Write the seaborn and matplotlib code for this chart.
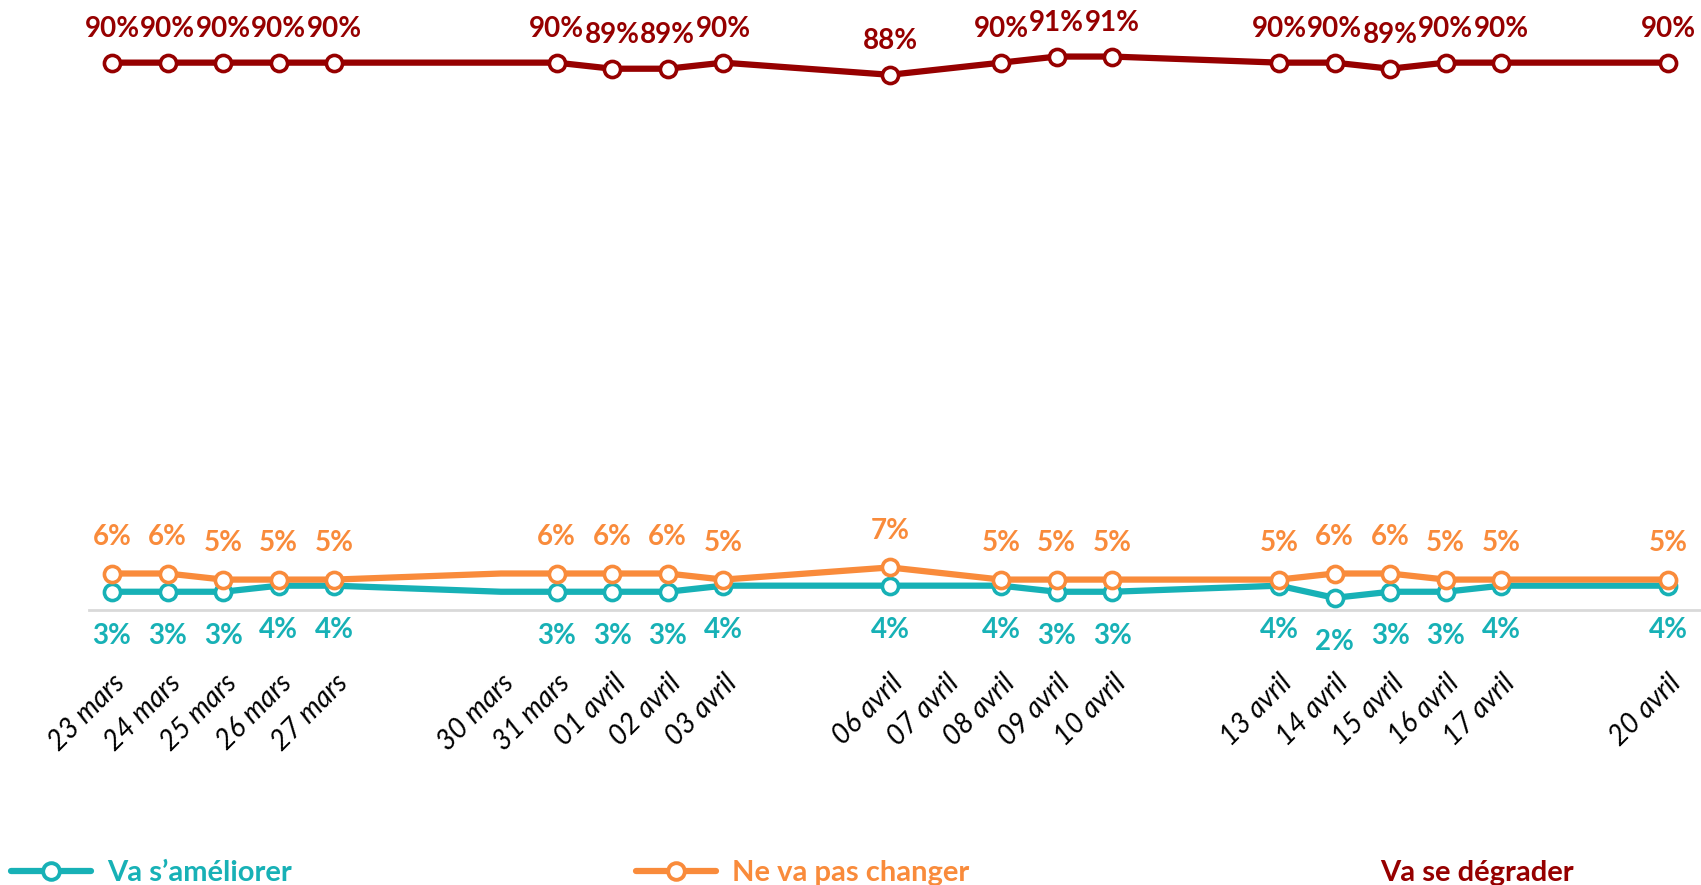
import matplotlib
matplotlib.use("Agg")
import matplotlib.pyplot as plt
import seaborn as sns
import pandas as pd
from matplotlib.lines import Line2D

sns.set_theme(style="white")
plt.rcParams['font.family'] = ['Lato', 'DejaVu Sans']

dates = ["2020-03-23", "2020-03-24", "2020-03-25", "2020-03-26", "2020-03-27",
         "2020-03-30", "2020-03-31", "2020-04-01", "2020-04-02", "2020-04-03",
         "2020-04-06", "2020-04-07", "2020-04-08", "2020-04-09", "2020-04-10",
         "2020-04-13", "2020-04-14", "2020-04-15", "2020-04-16", "2020-04-17",
         "2020-04-20"]
tick_labels = ["23 mars", "24 mars", "25 mars", "26 mars", "27 mars",
               "30 mars", "31 mars", "01 avril", "02 avril", "03 avril",
               "06 avril", "07 avril", "08 avril", "09 avril", "10 avril",
               "13 avril", "14 avril", "15 avril", "16 avril", "17 avril",
               "20 avril"]
# points shown with a marker and label
shown = [1, 1, 1, 1, 1, 0, 1, 1, 1, 1, 1, 0, 1, 1, 1, 1, 1, 1, 1, 1, 1]

ameliorer = [3, 3, 3, 4, 4, 3, 3, 3, 3, 4, 4, 4, 4, 3, 3, 4, 2, 3, 3, 4, 4]
pas_changer = [6, 6, 5, 5, 5, 6, 6, 6, 6, 5, 7, 6, 5, 5, 5, 5, 6, 6, 5, 5, 5]
degrader = [90, 90, 90, 90, 90, 90, 90, 89, 89, 90, 88, 89, 90, 91, 91, 90, 90, 89, 90, 90, 90]

series_names = ["Va s\u2019améliorer", "Ne va pas changer", "Va se dégrader"]
colors = ["#17B1B6", "#F98B3B", "#960000"]

d = pd.to_datetime(pd.Series(dates))
days = (d - d.iloc[0]).dt.days.tolist()

df = pd.DataFrame({"day": days, "shown": shown,
                   series_names[0]: ameliorer,
                   series_names[1]: pas_changer,
                   series_names[2]: degrader})

W, H = 1701, 885
fig = plt.figure(figsize=(W / 100, H / 100), dpi=100)
ax = fig.add_axes([89 / W, 275 / H, (W - 89) / W, 610 / H])

label_offsets = [-32, 26.5, 24]  # points: teal below, others above
for i, name in enumerate(series_names):
    c = colors[i]
    sns.lineplot(data=df, x="day", y=name, ax=ax, color=c, linewidth=4.5,
                 zorder=2 + i * 2, legend=False)
    sub = df[df["shown"] == 1]
    ax.scatter(sub["day"], sub[name], s=135, facecolor="white", edgecolor=c,
               linewidth=2.6, zorder=3 + i * 2)
    for x, y in zip(sub["day"], sub[name]):
        ax.annotate(f"{y}%", (x, y), xytext=(0, label_offsets[i]),
                    textcoords="offset points", ha="center", va="center",
                    fontsize=20, fontweight="bold", color=c, zorder=10)

ax.set_xlim(-0.414, 28.594)
ax.set_ylim(0, 100.3)
ax.set_xticks(days)
ax.set_xticklabels(tick_labels, rotation=45, ha="right", rotation_mode="anchor",
                   fontsize=20, fontstyle="italic", color="black")
ax.tick_params(axis="x", length=0, pad=43)
ax.set_yticks([])
ax.set_xlabel("")
ax.set_ylabel("")
for s in ["top", "left", "right"]:
    ax.spines[s].set_visible(False)
ax.spines["bottom"].set_color("#D9D9D9")
ax.spines["bottom"].set_linewidth(2)

# Legend (bottom, partially cut off as in reference)
leg_x = [11 / W, 636 / W, 1380 / W]
for i, name in enumerate(series_names):
    if i < 2:
        h = Line2D([0], [0], color=colors[i], linewidth=4.5, marker="o",
                   markersize=12, markerfacecolor="white",
                   markeredgecolor=colors[i], markeredgewidth=2.8)
        lg = fig.legend([h], [name], loc="center left",
                        bbox_to_anchor=(leg_x[i], 1 - 873 / H), frameon=False,
                        handlelength=2.75, handletextpad=0.55, borderpad=0,
                        borderaxespad=0,
                        prop={"size": 21, "weight": "bold"})
    else:
        h = Line2D([0], [0], color=colors[i], linewidth=0)
        lg = fig.legend([h], [name], loc="center left",
                        bbox_to_anchor=(leg_x[i], 1 - 873 / H), frameon=False,
                        handlelength=0, handletextpad=0, borderpad=0,
                        borderaxespad=0,
                        prop={"size": 21, "weight": "bold"})
    for t in lg.get_texts():
        t.set_color(colors[i])

fig.savefig("out.png", dpi=100)
